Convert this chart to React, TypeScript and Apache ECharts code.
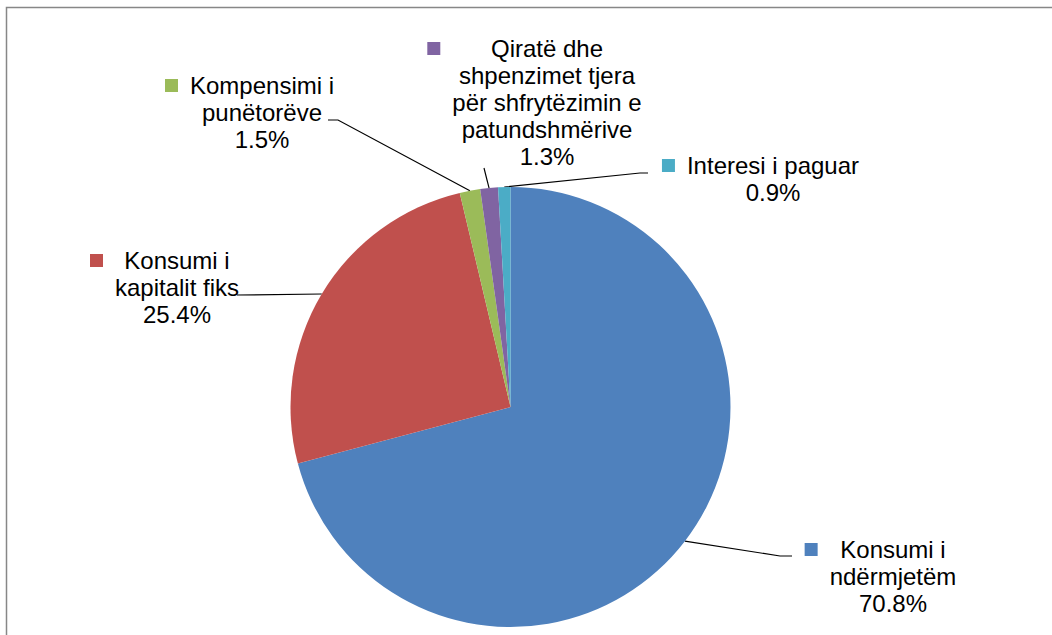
import React, { useEffect, useRef } from "react";
import * as echarts from "echarts";

const categories = [
  "Konsumi i ndërmjetëm",
  "Konsumi i kapitalit fiks",
  "Kompensimi i punëtorëve",
  "Qiratë dhe shpenzimet tjera për shfrytëzimin e patundshmërive",
  "Interesi i paguar",
];
const labelTextLines = [
  ["Konsumi i", "ndërmjetëm"],
  ["Konsumi i", "kapitalit fiks"],
  ["Kompensimi i", "punëtorëve"],
  ["Qiratë dhe", "shpenzimet tjera", "për shfrytëzimin e", "patundshmërive"],
  ["Interesi i paguar"],
];
const values = [70.8, 25.4, 1.5, 1.3, 0.9];
const colors = ["#4F81BD", "#C0504D", "#9BBB59", "#8064A2", "#4BACC6"];

// label anchor (text centre x, top y) and leader-line bends
const labelPos = [
  [893, 536],
  [177, 247],
  [262, 72],
  [547, 35],
  [773, 152],
];
const leaderBends = [
  [[780, 556], [792, 556]],
  [[237, 295]],
  [[338, 120], [328, 120]],
  [[484, 168]],
  [[640, 173], [648, 173]],
];

const CX = 510.5;
const CY = 407;
const R = 220;

export default function App() {
  const ref = useRef<HTMLDivElement>(null);
  useEffect(() => {
    if (!ref.current) return;
    const chart = echarts.init(ref.current, null, { renderer: "svg" });
    const total = values.reduce((a, b) => a + b, 0);
    const font = "'Liberation Sans', Arial, Helvetica, sans-serif";
    const rich: any = {
      g: { width: 12, height: 13, align: "left", lineHeight: 27 },
      sl: { width: 25, height: 13, align: "left", lineHeight: 27 },
      sr: { width: 25, height: 13, align: "right", lineHeight: 27 },
      t: {
        fontSize: 24,
        color: "#000",
        align: "center",
        lineHeight: 27,
        fontFamily: font,
      },
    };
    colors.forEach((c, i) => {
      rich["sq" + i] = {
        width: 13,
        height: 13,
        backgroundColor: c,
        align: "left",
        lineHeight: 27,
      };
    });
    const startPoint = (i: number) => {
      let cum = 0;
      for (let k = 0; k < i; k++) cum += values[k];
      cum += values[i] / 2;
      const ang = ((90 - (cum / total) * 360) * Math.PI) / 180;
      return [CX + R * Math.cos(ang), CY - R * Math.sin(ang)];
    };
    chart.setOption({
      animation: false,
      backgroundColor: "#fff",
      graphic: [
        {
          type: "rect",
          shape: { x: 6.5, y: 7.5, width: 1100, height: 700 },
          style: { fill: "none", stroke: "#878787", lineWidth: 1.5 },
          silent: true,
        },
      ],
      series: [
        {
          type: "pie",
          center: [CX, CY],
          radius: R,
          startAngle: 90,
          clockwise: true,
          avoidLabelOverlap: false,
          itemStyle: { borderWidth: 0 },
          data: categories.map((name, i) => ({
            name,
            value: values[i],
            itemStyle: { color: colors[i] },
          })),
          label: {
            show: true,
            position: "outside",
            fontFamily: font,
            fontSize: 24,
            lineHeight: 27,
            color: "#000",
            formatter: (p: any) => {
              const i = p.dataIndex;
              const lines = labelTextLines[i].map(
                (l, k) =>
                  (k === 0 ? `{sq${i}|}{g|}` : `{sl|}`) + `{t|${l}}{sr|}`
              );
              lines.push(`{sl|}{t|${values[i].toFixed(1)}%}{sr|}`);
              return lines.join("\n");
            },
            rich,
          },
          labelLine: {
            show: true,
            length: 10,
            length2: 10,
            lineStyle: { color: "#000", width: 1.2 },
          },
          labelLayout: (p: any) => {
            const i = p.dataIndex;
            const s = startPoint(i);
            return {
              x: labelPos[i][0],
              y: labelPos[i][1],
              align: "center",
              verticalAlign: "top",
              labelLinePoints: [s, ...leaderBends[i]],
            };
          },
        },
      ],
    });
    return () => chart.dispose();
  }, []);
  return (
    <div
      ref={ref}
      style={{ position: "absolute", left: 0, top: 0, width: 1052, height: 635 }}
    />
  );
}
